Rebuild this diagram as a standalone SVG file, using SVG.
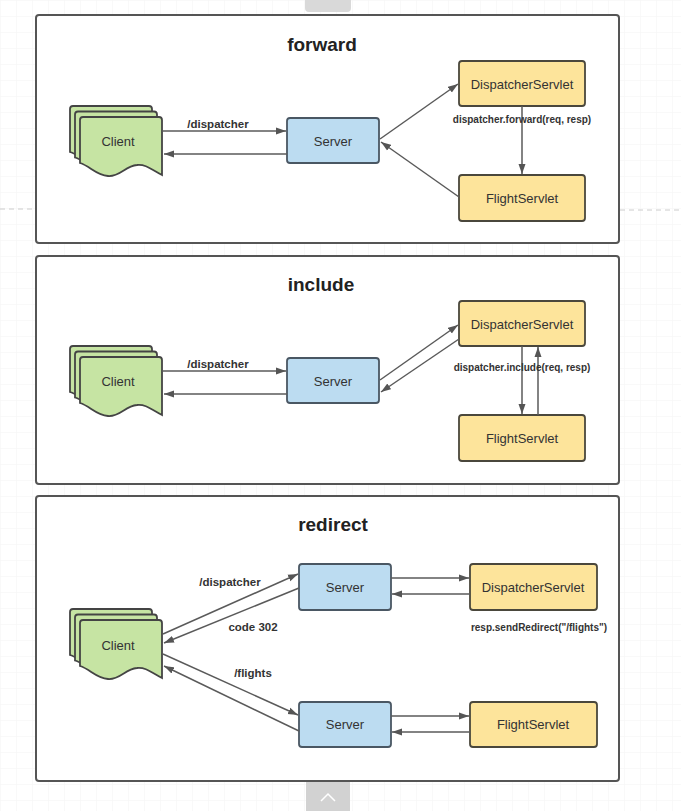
<svg xmlns="http://www.w3.org/2000/svg" width="681" height="811" viewBox="0 0 681 811">
<style>
.frame{fill:#fff;stroke:#555;stroke-width:2}
.title{font-family:"Liberation Sans",Arial,sans-serif;font-weight:bold;font-size:19px;fill:#222;text-anchor:middle}
.lbl{font-family:"Liberation Sans",Arial,sans-serif;font-weight:bold;font-size:11.5px;fill:#333;text-anchor:middle}
.code{font-family:"Liberation Sans",Arial,sans-serif;font-weight:bold;font-size:10px;fill:#333;text-anchor:middle}
.ntxt{font-family:"Liberation Sans",Arial,sans-serif;font-size:13px;fill:#333;text-anchor:middle}
.doc{fill:#c6e4a3;stroke:#444;stroke-width:1.8}
.srv{fill:#bcdcf1;stroke:#4a5763;stroke-width:1.8}
.ylw{fill:#fde49b;stroke:#4a473c;stroke-width:1.8}
.cn{fill:none;stroke:#5a5a5a;stroke-width:1.5}
</style>
<defs>
<pattern id="grid" width="16" height="16" patternUnits="userSpaceOnUse">
<path d="M16,0 L0,0 0,16" fill="none" stroke="#f3f3f3" stroke-width="1"/>
</pattern>
<marker id="ah" markerWidth="10" markerHeight="8" refX="10" refY="4" orient="auto" markerUnits="userSpaceOnUse">
<polygon points="0,0.5 10,4 0,7.5" fill="#555"/>
</marker>
<path id="docp" d="M80,120 Q80,117 83,117 L159,117 Q162,117 162,120 L162,175 C152,170 146,164 137,165 C125,166 120,177 108,176 C96,175 90,166 80,163 Z"/>
<g id="client">
<use href="#docp" class="doc" transform="translate(-10,-11)"/>
<use href="#docp" class="doc" transform="translate(-5,-5.5)"/>
<use href="#docp" class="doc"/>
</g>
</defs>
<rect x="0" y="0" width="681" height="811" fill="#fff"/>
<rect x="0" y="0" width="681" height="811" fill="url(#grid)"/>
<line x1="0" y1="209" x2="36" y2="209" stroke="#ccc" stroke-width="1" stroke-dasharray="5,4"/>
<line x1="620" y1="210" x2="681" y2="210" stroke="#ccc" stroke-width="1" stroke-dasharray="5,4"/>
<rect x="305" y="-4" width="46" height="16" rx="4" fill="#d9d9d9"/>
<rect x="306" y="776" width="44" height="40" rx="4" fill="#d2d2d2"/>
<polyline points="321,801 328,794 335,801" fill="none" stroke="#fff" stroke-width="1.5"/>

<g id="frame-forward">
<rect class="frame" x="36" y="15" width="583" height="228" rx="3"/>
<text class="title" x="322" y="51">forward</text>
</g>
<g id="frame-include">
<rect class="frame" x="36" y="256" width="583" height="228" rx="3"/>
<text class="title" x="321" y="291">include</text>
</g>
<g id="frame-redirect">
<rect class="frame" x="36" y="496" width="583" height="285" rx="3"/>
<text class="title" x="333" y="531">redirect</text>
</g>

<!-- forward -->
<g id="f-client"><use href="#client"/><text class="ntxt" x="118" y="145.5">Client</text></g>
<g id="f-server"><rect class="srv" x="287" y="118" width="92" height="45" rx="3"/><text class="ntxt" x="333" y="145.5">Server</text></g>
<g id="f-dispatcher"><rect class="ylw" x="459" y="61" width="126" height="45" rx="3"/><text class="ntxt" x="522" y="88.5">DispatcherServlet</text></g>
<g id="f-flight"><rect class="ylw" x="459" y="175" width="126" height="46" rx="3"/><text class="ntxt" x="522" y="202.5">FlightServlet</text></g>

<!-- include -->
<g id="i-client"><use href="#client" transform="translate(0,240)"/><text class="ntxt" x="118" y="385.5">Client</text></g>
<g id="i-server"><rect class="srv" x="287" y="358" width="92" height="45" rx="3"/><text class="ntxt" x="333" y="385.5">Server</text></g>
<g id="i-dispatcher"><rect class="ylw" x="459" y="301" width="126" height="45" rx="3"/><text class="ntxt" x="522" y="328.5">DispatcherServlet</text></g>
<g id="i-flight"><rect class="ylw" x="459" y="415" width="126" height="46" rx="3"/><text class="ntxt" x="522" y="442.5">FlightServlet</text></g>

<!-- redirect -->
<g id="r-client"><use href="#client" transform="translate(0,503)"/><text class="ntxt" x="118" y="649.5">Client</text></g>
<g id="r-server1"><rect class="srv" x="299" y="564" width="92" height="46" rx="3"/><text class="ntxt" x="345" y="591.5">Server</text></g>
<g id="r-server2"><rect class="srv" x="299" y="702" width="92" height="45" rx="3"/><text class="ntxt" x="345" y="728.5">Server</text></g>
<g id="r-dispatcher"><rect class="ylw" x="470" y="564" width="127" height="46" rx="3"/><text class="ntxt" x="533" y="591.5">DispatcherServlet</text></g>
<g id="r-flight"><rect class="ylw" x="470" y="702" width="127" height="45" rx="3"/><text class="ntxt" x="533" y="728.5">FlightServlet</text></g>

<g id="connectors">
<!-- forward -->
<line class="cn" x1="163" y1="131" x2="286" y2="131" marker-end="url(#ah)"/>
<line class="cn" x1="287" y1="154" x2="164" y2="154" marker-end="url(#ah)"/>
<line class="cn" x1="380" y1="139" x2="458" y2="84" marker-end="url(#ah)"/>
<line class="cn" x1="459" y1="197" x2="381" y2="142" marker-end="url(#ah)"/>
<line class="cn" x1="522" y1="106" x2="522" y2="174" marker-end="url(#ah)"/>
<!-- include -->
<line class="cn" x1="163" y1="371" x2="286" y2="371" marker-end="url(#ah)"/>
<line class="cn" x1="287" y1="394" x2="164" y2="394" marker-end="url(#ah)"/>
<line class="cn" x1="380" y1="380" x2="458" y2="325" marker-end="url(#ah)"/>
<line class="cn" x1="459" y1="339" x2="381" y2="392" marker-end="url(#ah)"/>
<line class="cn" x1="522" y1="346" x2="522" y2="414" marker-end="url(#ah)"/>
<line class="cn" x1="538" y1="415" x2="538" y2="347" marker-end="url(#ah)"/>
<!-- redirect -->
<line class="cn" x1="163" y1="634" x2="298" y2="574" marker-end="url(#ah)"/>
<line class="cn" x1="299" y1="588" x2="164" y2="643" marker-end="url(#ah)"/>
<line class="cn" x1="163" y1="654" x2="298" y2="715" marker-end="url(#ah)"/>
<line class="cn" x1="299" y1="731" x2="164" y2="666" marker-end="url(#ah)"/>
<line class="cn" x1="391" y1="578" x2="469" y2="578" marker-end="url(#ah)"/>
<line class="cn" x1="470" y1="594" x2="392" y2="594" marker-end="url(#ah)"/>
<line class="cn" x1="391" y1="716" x2="469" y2="716" marker-end="url(#ah)"/>
<line class="cn" x1="470" y1="732" x2="392" y2="732" marker-end="url(#ah)"/>
</g>

<g id="labels">
<text class="lbl" x="218" y="128">/dispatcher</text>
<text class="code" x="522" y="123">dispatcher.forward(req, resp)</text>
<text class="lbl" x="218" y="368">/dispatcher</text>
<text class="code" x="522" y="371">dispatcher.include(req, resp)</text>
<text class="lbl" x="230" y="586">/dispatcher</text>
<text class="lbl" x="253" y="631">code 302</text>
<text class="lbl" x="253" y="677">/flights</text>
<text class="code" x="539" y="631">resp.sendRedirect("/flights")</text>
</g>
</svg>
